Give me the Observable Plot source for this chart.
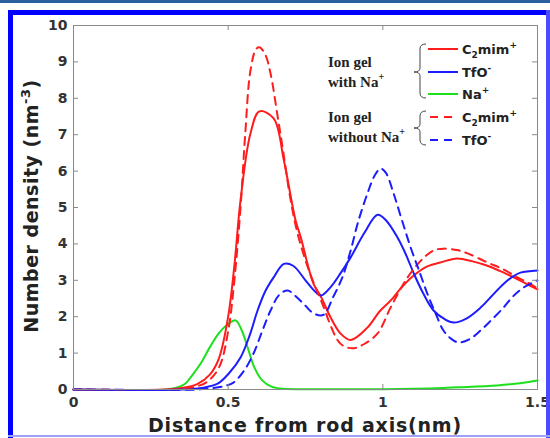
<!DOCTYPE html>
<html>
<head>
<meta charset="utf-8">
<script src="https://cdn.jsdelivr.net/npm/d3@7"></script>
<script src="https://cdn.jsdelivr.net/npm/@observablehq/plot@0.6"></script>
<style>
  html, body { margin: 0; padding: 0; background: #fff; }
  #wrap { position: relative; width: 550px; height: 438px; overflow: hidden; background: #fff; }
  #wrap svg { position: absolute; left: 0; top: 0; }
  .bd { position: absolute; z-index: 5; }
</style>
</head>
<body>
<div id="wrap">
  <div class="bd" style="left:0;top:0;width:550px;height:3px;background:#2b5f9e"></div>
  <div class="bd" style="left:8px;top:10px;width:542px;height:5px;background:#0000ff"></div>
  <div class="bd" style="left:8px;top:10px;width:5px;height:428px;background:#0000ff"></div>
  <div class="bd" style="left:546px;top:10px;width:4px;height:428px;background:#4a4aff"></div>
  <div class="bd" style="left:8px;top:435px;width:542px;height:2px;background:#a0a0f4"></div>
</div>
<script>
// ---- data ----
const xTicks = [0, 0.5, 1, 1.5];
const yTicks = [0, 1, 2, 3, 4, 5, 6, 7, 8, 9, 10];

// C2mim+ with Na+ (red solid)
const c2WithX = [0, 0.30, 0.35, 0.40, 0.44, 0.47, 0.50, 0.52, 0.54, 0.572, 0.601, 0.647, 0.68, 0.718, 0.734, 0.776, 0.80, 0.83, 0.863, 0.896, 0.95, 0.99, 1.025, 1.06, 1.10, 1.144, 1.19, 1.24, 1.29, 1.338, 1.38, 1.423, 1.46, 1.5];
const c2WithY = [0, 0, 0.04, 0.15, 0.4, 0.85, 2.0, 3.4, 5.2, 7.03, 7.64, 7.45, 6.3, 4.64, 4.2, 2.9, 2.55, 2.0, 1.54, 1.36, 1.7, 2.15, 2.44, 2.8, 3.13, 3.38, 3.5, 3.6, 3.52, 3.4, 3.25, 3.08, 2.92, 2.75];

// TfO- with Na+ (blue solid)
const tfoWithX = [0, 0.35, 0.42, 0.466, 0.50, 0.54, 0.57, 0.595, 0.62, 0.647, 0.68, 0.71, 0.75, 0.78, 0.80, 0.83, 0.863, 0.896, 0.94, 0.983, 1.01, 1.047, 1.075, 1.10, 1.13, 1.164, 1.20, 1.229, 1.27, 1.316, 1.35, 1.39, 1.42, 1.445, 1.5];
const tfoWithY = [0, 0, 0.05, 0.16, 0.42, 0.88, 1.5, 2.17, 2.7, 3.08, 3.45, 3.4, 3.0, 2.7, 2.58, 2.8, 3.19, 3.63, 4.3, 4.8, 4.65, 4.18, 3.7, 3.19, 2.65, 2.17, 1.93, 1.84, 1.95, 2.25, 2.55, 2.9, 3.1, 3.21, 3.27];

// Na+ with Na+ (green solid)
const naX = [0, 0.30, 0.33, 0.36, 0.38, 0.41, 0.44, 0.47, 0.50, 0.524, 0.545, 0.565, 0.585, 0.61, 0.64, 0.68, 0.8, 1.0, 1.15, 1.25, 1.37, 1.45, 1.5];
const naY = [0, 0, 0.04, 0.15, 0.35, 0.7, 1.15, 1.55, 1.8, 1.9, 1.6, 1.1, 0.6, 0.25, 0.08, 0.02, 0.01, 0.01, 0.03, 0.06, 0.11, 0.18, 0.25];

// C2mim+ without Na+ (red dashed)
const c2WithoutX = [0, 0.33, 0.38, 0.43, 0.47, 0.50, 0.52, 0.54, 0.555, 0.572, 0.59, 0.601, 0.62, 0.637, 0.66, 0.679, 0.70, 0.724, 0.76, 0.80, 0.863, 0.902, 0.94, 0.983, 1.025, 1.06, 1.09, 1.13, 1.164, 1.196, 1.24, 1.274, 1.338, 1.39, 1.435, 1.47, 1.5];
const c2WithoutY = [0, 0, 0.05, 0.2, 0.6, 1.6, 3.0, 5.0, 7.0, 8.76, 9.35, 9.4, 9.2, 8.68, 7.5, 6.48, 5.3, 4.3, 3.3, 2.45, 1.26, 1.13, 1.25, 1.54, 2.25, 2.8, 3.2, 3.6, 3.82, 3.87, 3.83, 3.74, 3.49, 3.3, 3.08, 2.93, 2.78];

// TfO- without Na+ (blue dashed)
const tfoWithoutX = [0, 0.40, 0.45, 0.49, 0.517, 0.55, 0.582, 0.61, 0.637, 0.665, 0.692, 0.72, 0.75, 0.776, 0.808, 0.84, 0.87, 0.896, 0.92, 0.95, 0.975, 0.993, 1.01, 1.035, 1.06, 1.09, 1.12, 1.144, 1.17, 1.196, 1.22, 1.245, 1.28, 1.316, 1.35, 1.39, 1.42, 1.455, 1.5];
const tfoWithoutY = [0, 0, 0.04, 0.1, 0.19, 0.5, 0.99, 1.6, 2.17, 2.6, 2.72, 2.55, 2.3, 2.09, 2.05, 2.55, 3.1, 3.82, 4.6, 5.38, 5.9, 6.07, 5.95, 5.38, 4.7, 3.9, 3.2, 2.63, 2.1, 1.62, 1.4, 1.29, 1.38, 1.62, 1.9, 2.25, 2.55, 2.8, 3.0];

const RED = "#ff1c1c", BLUE = "#1c1cff", GREEN = "#1de01d";

const seriesDefs = [
  {key: "na", xs: naX, ys: naY, color: GREEN, dash: null},
  {key: "c2with", xs: c2WithX, ys: c2WithY, color: RED, dash: null},
  {key: "tfowith", xs: tfoWithX, ys: tfoWithY, color: BLUE, dash: null},
  {key: "c2without", xs: c2WithoutX, ys: c2WithoutY, color: RED, dash: "8,6"},
  {key: "tfowithout", xs: tfoWithoutX, ys: tfoWithoutY, color: BLUE, dash: "8,6"}
];

const lineMarks = seriesDefs.map(s => Plot.line(
  s.xs.map((x, i) => ({x, y: s.ys[i]})),
  {x: "x", y: "y", stroke: s.color, strokeWidth: 2, strokeDasharray: s.dash || undefined, curve: "catmull-rom"}
));

const W = 550, H = 438, ML = 73, MR = 13, MT = 25, MB = 49;
const frameW = W - ML - MR, frameH = H - MT - MB;
const TL = 5;

const chart = Plot.plot({
  width: W, height: H,
  marginLeft: ML, marginRight: MR, marginTop: MT, marginBottom: MB,
  style: {fontFamily: "'DejaVu Sans', sans-serif", fontWeight: "bold", fontSize: "14px", background: "transparent", color: "#333"},
  x: {domain: [0, 1.5]},
  y: {domain: [0, 10]},
  marks: [
    ...lineMarks,
    Plot.frame({stroke: "#8a8a8a", strokeWidth: 1}),
    Plot.tickX(xTicks, {x: d => d, stroke: "#8a8a8a", insetTop: frameH - TL}),
    Plot.tickX(xTicks, {x: d => d, stroke: "#8a8a8a", insetBottom: frameH - TL}),
    Plot.tickY(yTicks, {y: d => d, stroke: "#8a8a8a", insetRight: frameW - TL}),
    Plot.tickY(yTicks, {y: d => d, stroke: "#8a8a8a", insetLeft: frameW - TL}),
    Plot.axisX({ticks: xTicks, tickSize: 0, tickPadding: 8, tickFormat: d => String(d), label: null, fill: "#333"}),
    Plot.axisY({ticks: yTicks, tickSize: 0, tickPadding: 6, tickFormat: d => String(d), label: null, fill: "#333"})
  ]
});

document.getElementById("wrap").prepend(chart);
const svg = d3.select(chart);

// axis titles
svg.append("text")
  .attr("x", 305).attr("y", 432).attr("text-anchor", "middle")
  .attr("font-size", 19).attr("font-weight", "bold").attr("letter-spacing", "0.8px")
  .attr("fill", "#222").text("Distance from rod axis(nm)");

const yl = svg.append("text")
  .attr("transform", "translate(38,206) rotate(-90)")
  .attr("text-anchor", "middle")
  .attr("font-size", 19).attr("font-weight", "bold").attr("letter-spacing", "0.5px")
  .attr("fill", "#222");
yl.append("tspan").text("Number density (nm");
yl.append("tspan").attr("dy", -8).attr("font-size", 13).text("-3");
yl.append("tspan").attr("dy", 8).text(")");

// legend
const leg = svg.append("g")
  .attr("font-family", "'DejaVu Sans', sans-serif").attr("font-weight", "bold")
  .attr("fill", "#222").attr("text-anchor", "start");
const legendRows = [
  {y: 49, color: RED, dash: null, label: "C2mim+"},
  {y: 72, color: BLUE, dash: null, label: "TfO-"},
  {y: 94, color: GREEN, dash: null, label: "Na+"},
  {y: 117, color: RED, dash: "8,6", label: "C2mim+"},
  {y: 140, color: BLUE, dash: "8,6", label: "TfO-"}
];
legendRows.forEach(r => {
  const ln = leg.append("line").attr("x1", 428).attr("x2", 458).attr("y1", r.y).attr("y2", r.y)
    .attr("stroke", r.color).attr("stroke-width", 2);
  if (r.dash) ln.attr("stroke-dasharray", r.dash).attr("x1", 430);
  const t = leg.append("text").attr("x", 462).attr("y", r.y + 4.5).attr("font-size", 13).attr("text-anchor", "start");
  if (r.label === "C2mim+") {
    t.append("tspan").text("C");
    t.append("tspan").attr("dy", 4).attr("font-size", 9).text("2");
    t.append("tspan").attr("dy", -4).text("mim");
    t.append("tspan").attr("dy", -6).attr("font-size", 9).text("+");
  } else if (r.label === "TfO-") {
    t.append("tspan").text("TfO");
    t.append("tspan").attr("dy", -6).attr("font-size", 9).text("-");
  } else {
    t.append("tspan").text("Na");
    t.append("tspan").attr("dy", -6).attr("font-size", 9).text("+");
  }
});

// braces
function brace(y0, ym, y1) {
  return `M 426 ${y0} Q 420 ${y0} 420 ${y0 + 5} L 420 ${ym - 4} Q 420 ${ym} 414 ${ym} Q 420 ${ym} 420 ${ym + 4} L 420 ${y1 - 5} Q 420 ${y1} 426 ${y1}`;
}
leg.append("path").attr("d", brace(44, 72, 98)).attr("fill", "none").attr("stroke", "#444").attr("stroke-width", 1);
leg.append("path").attr("d", brace(111, 128, 145)).attr("fill", "none").attr("stroke", "#444").attr("stroke-width", 1);

// group titles (serif)
const groups = [
  {lines: ["Ion gel", "with Na"], y: 67},
  {lines: ["Ion gel", "without Na"], y: 122}
];
const serif = "'Liberation Serif', 'DejaVu Serif', serif";
groups.forEach(g => {
  leg.append("text").attr("x", 328).attr("y", g.y).attr("text-anchor", "start")
    .attr("font-family", serif).attr("font-size", 15).attr("font-weight", "bold").attr("fill", "#222")
    .text(g.lines[0]);
  const t2 = leg.append("text").attr("x", 328).attr("y", g.y + 20).attr("text-anchor", "start")
    .attr("font-family", serif).attr("font-size", 15).attr("font-weight", "bold").attr("fill", "#222");
  t2.append("tspan").text(g.lines[1]);
  t2.append("tspan").attr("dy", -7).attr("font-size", 10).text("+");
});
</script>
</body>
</html>
